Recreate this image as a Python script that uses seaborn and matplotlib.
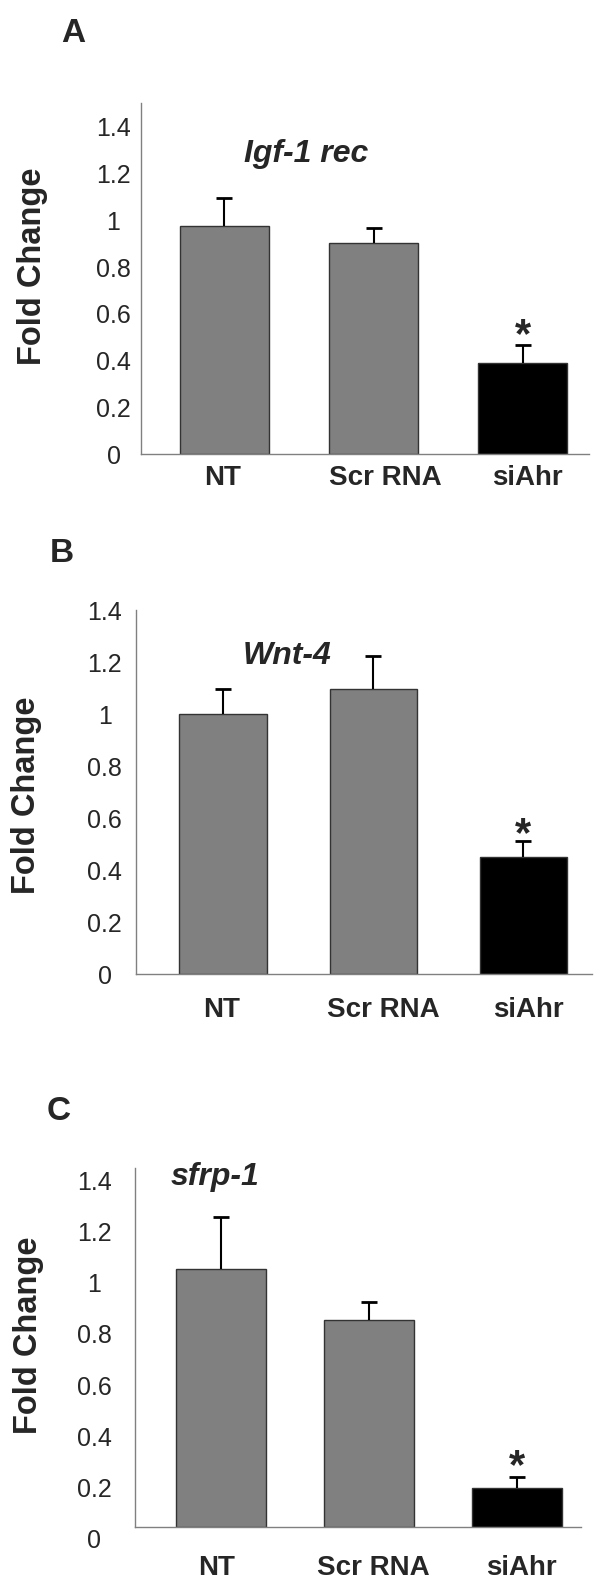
import matplotlib
matplotlib.use("Agg")
import matplotlib.pyplot as plt
import matplotlib.transforms as mtransforms
import seaborn as sns
import numpy as np

sns.set_style("white")
plt.rcParams['font.family'] = ['Liberation Sans', 'DejaVu Sans']

# ---- data ----
categories = ["NT", "Scr RNA", "siAhr"]
bar_colors = ["#808080", "#808080", "#000000"]

igf_values = [0.975, 0.903, 0.391]
igf_errors = [0.120, 0.062, 0.078]

wnt_values = [1.000, 1.097, 0.451]
wnt_errors = [0.096, 0.127, 0.062]

sfrp_values = [1.006, 0.809, 0.152]
sfrp_errors = [0.203, 0.068, 0.043]

ytick_values = [0, 0.2, 0.4, 0.6, 0.8, 1.0, 1.2, 1.4]
ytick_labels = ["0", "0.2", "0.4", "0.6", "0.8", "1", "1.2", "1.4"]

W, H = 607, 1590
fig = plt.figure(figsize=(W / 100, H / 100), dpi=100)
PT = 0.72  # points per pixel at dpi 100


def px_axes(left, right, top, bottom):
    return fig.add_axes([left / W, (H - bottom) / H, (right - left) / W, (bottom - top) / H])


panels = [
    dict(box=(141.3, 588.5, 103.3, 454.3), ylim=1.5, xlim=(-0.558, 2.442), width=0.6,
         vals=igf_values, errs=igf_errors,
         title="Igf-1 rec", tpos=(0.546, 1.284), letter="A", lpos=(73.6, 33.3), ylab=(33, 266),
         ytpad=27, xtpad=24, ylab_shift=0, star_off=8, xl_shift=[-2, 12, 5]),
    dict(box=(135.5, 592.3, 610, 974.3), ylim=1.4, xlim=(-0.583, 2.459), width=0.58,
         vals=wnt_values, errs=wnt_errors,
         title="Wnt-4", tpos=(0.423, 1.224), letter="B", lpos=(61.9, 553.3), ylab=(27, 795),
         ytpad=30, xtpad=36, ylab_shift=0, star_off=6, xl_shift=[-1, 10, 5]),
    dict(box=(135, 580.7, 1168, 1527), ylim=1.4, xlim=(-0.581, 2.429), width=0.61,
         vals=sfrp_values, errs=sfrp_errors,
         title="sfrp-1", tpos=(-0.04, 1.366), letter="C", lpos=(58.3, 1111.7), ylab=(29, 1335),
         ytpad=40, xtpad=41, ylab_shift=-12, star_off=9.5, xl_shift=[-4, 4, 4]),
]

for p in panels:
    ax = px_axes(*p["box"])
    sns.barplot(x=categories, y=p["vals"], hue=categories, palette=bar_colors, legend=False,
                width=p["width"], edgecolor="#333333", linewidth=1.0, saturation=1, ax=ax)
    xs = np.arange(len(categories))
    eb = ax.errorbar(xs, p["vals"], yerr=[np.zeros(len(xs)), p["errs"]], fmt="none",
                     ecolor="black", elinewidth=1.5, capsize=6, capthick=2.0, zorder=5)
    caps = eb[1]
    if len(caps) >= 2:
        caps[0].set_visible(False)
    ax.set_xlim(*p["xlim"])
    ax.set_ylim(0, p["ylim"])
    ax.set_yticks(ytick_values)
    ax.set_yticklabels(ytick_labels, fontsize=18, ha="center")
    ax.set_xticks(xs)
    ax.set_xticklabels(categories, fontsize=20, fontweight="bold")
    ax.tick_params(axis="x", length=0, pad=p["xtpad"] * PT)
    ax.tick_params(axis="y", length=2, width=0.8, color="#808080", direction="out",
                   pad=(p["ytpad"] - 2) * PT)
    for lbl, dx in zip(ax.get_xticklabels(), p["xl_shift"]):
        lbl.set_va("center")
        off = mtransforms.ScaledTranslation(dx / 100, 0, fig.dpi_scale_trans)
        lbl.set_transform(lbl.get_transform() + off)
    if p["ylab_shift"]:
        off = mtransforms.ScaledTranslation(0, p["ylab_shift"] / 100, fig.dpi_scale_trans)
        for lbl in ax.get_yticklabels():
            lbl.set_transform(lbl.get_transform() + off)
    ax.set_xlabel("")
    ax.set_ylabel("")
    for s in ["top", "right"]:
        ax.spines[s].set_visible(False)
    for s in ["left", "bottom"]:
        ax.spines[s].set_color("#808080")
        ax.spines[s].set_linewidth(1.0)
    ax.grid(False)
    # gene title
    ax.text(p["tpos"][0], p["tpos"][1], p["title"], fontsize=23, fontweight="bold",
            fontstyle="italic", ha="center", va="center")
    # significance star above siAhr
    ax.annotate("*", xy=(2, p["vals"][2] + p["errs"][2]), xytext=(0, p["star_off"] * PT),
                textcoords="offset points", ha="center", va="center", fontsize=30, fontweight="bold")
    # panel letter and y label
    fig.text(p["lpos"][0] / W, 1 - p["lpos"][1] / H, p["letter"], fontsize=24, fontweight="bold",
             ha="center", va="center")
    fig.text(p["ylab"][0] / W, 1 - p["ylab"][1] / H, "Fold Change", fontsize=23.5, fontweight="bold",
             rotation=90, ha="center", va="center")

fig.savefig("out.png", dpi=100)
